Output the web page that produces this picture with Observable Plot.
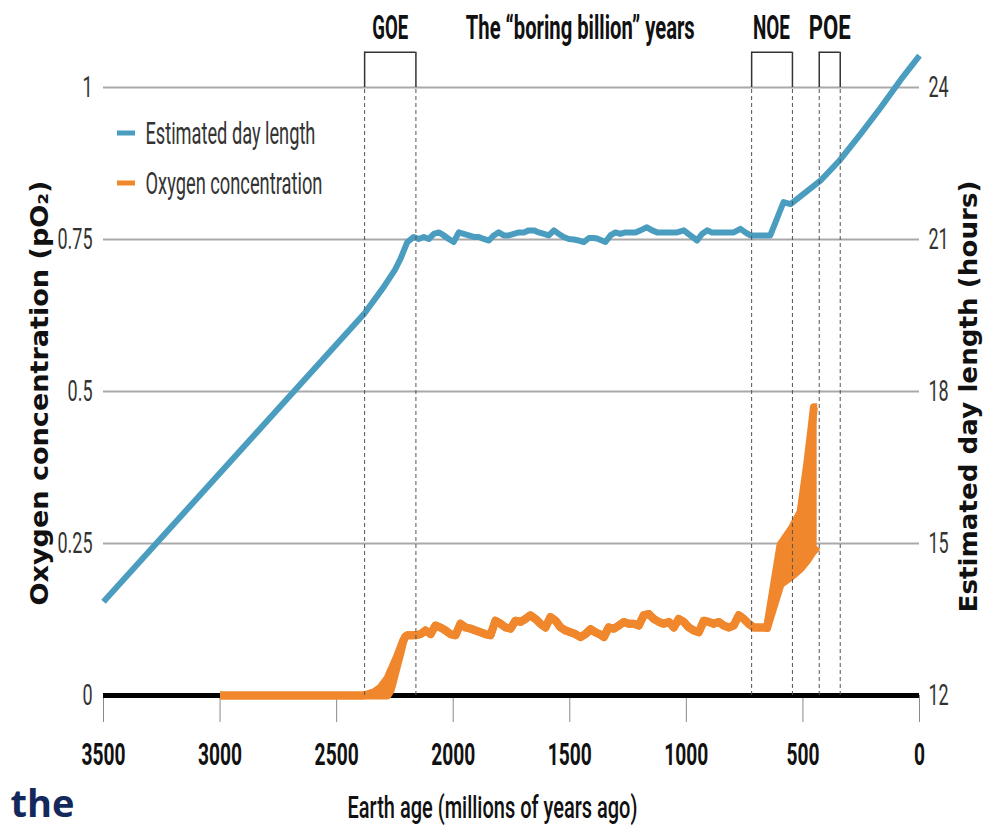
<!DOCTYPE html>
<html><head><meta charset="utf-8">
<script src="https://cdn.jsdelivr.net/npm/d3@7"></script>
<script src="https://cdn.jsdelivr.net/npm/@observablehq/plot@0.6"></script>
<style>
html,body{margin:0;padding:0;background:#fff;}
#chart{width:986px;height:826px;}
</style></head><body><div id="chart"></div>
<script>
// ---- data ----
const dayAge = [3500,2381,2300,2250,2226,2197,2169,2148,2126,2105,2083,2062,2040,2019,1998,1976,1955,1933,1912,1890,1869,1847,1826,1805,1783,1762,1740,1719,1697,1676,1654,1633,1611,1590,1568,1547,1526,1504,1483,1461,1440,1418,1397,1383,1347,1326,1304,1283,1261,1240,1218,1197,1169,1147,1125,1097,1068,1040,1011,983,954,933,911,890,868,847,826,797,768,747,725,704,683,661,640,583,553,425,339,253,167,81,0];
const dayHours = [13.85,19.54,20.05,20.40,20.62,20.95,21.05,21.01,21.05,21.01,21.11,21.14,21.08,21.01,20.95,21.14,21.11,21.08,21.05,21.05,21.01,20.98,21.08,21.14,21.08,21.08,21.11,21.14,21.14,21.18,21.18,21.14,21.11,21.08,21.18,21.11,21.05,21.01,21.00,20.98,20.95,21.03,21.03,21.02,20.95,21.08,21.14,21.11,21.14,21.14,21.14,21.18,21.24,21.18,21.14,21.14,21.14,21.14,21.18,21.08,20.98,21.11,21.18,21.14,21.14,21.14,21.14,21.14,21.21,21.14,21.08,21.08,21.08,21.08,21.08,21.74,21.70,22.16,22.58,23.08,23.60,24.15,24.63];

const oxAge = [3000,2385,2340,2312,2282,2269,2260,2240,2226,2215,2205,2197,2162,2140,2119,2097,2076,2055,2033,2012,1990,1969,1947,1926,1904,1883,1862,1840,1819,1797,1776,1754,1733,1711,1690,1669,1647,1626,1604,1583,1561,1540,1518,1497,1476,1454,1433,1411,1390,1368,1354,1333,1311,1290,1268,1247,1226,1204,1183,1161,1140,1118,1097,1075,1054,1033,1011,990,968,947,925,904,883,861,840,818,797,775,754,733,711,690,668,654,596,546,510,482,460,453,439];
const oxLo = [0,0,0,0,0,0.008,0.02,0.05,0.07,0.088,0.097,0.099,0.099,0.101,0.107,0.101,0.115,0.112,0.107,0.101,0.099,0.118,0.112,0.110,0.107,0.104,0.101,0.099,0.123,0.118,0.112,0.110,0.123,0.121,0.126,0.132,0.126,0.118,0.112,0.129,0.123,0.112,0.107,0.104,0.101,0.096,0.101,0.109,0.104,0.100,0.096,0.112,0.110,0.115,0.121,0.118,0.118,0.115,0.132,0.134,0.126,0.121,0.118,0.121,0.112,0.126,0.121,0.112,0.107,0.104,0.123,0.121,0.118,0.121,0.115,0.112,0.115,0.132,0.126,0.118,0.112,0.112,0.112,0.111,0.183,0.197,0.209,0.222,0.235,0.238,0.245];
const oxHi = [0,0,0.005,0.013,0.028,0.04,0.047,0.065,0.079,0.09,0.097,0.099,0.099,0.101,0.107,0.101,0.115,0.112,0.107,0.101,0.099,0.118,0.112,0.110,0.107,0.104,0.101,0.099,0.123,0.118,0.112,0.110,0.123,0.121,0.126,0.132,0.126,0.118,0.112,0.129,0.123,0.112,0.107,0.104,0.101,0.096,0.101,0.109,0.104,0.100,0.096,0.112,0.110,0.115,0.121,0.118,0.118,0.115,0.132,0.134,0.126,0.121,0.118,0.121,0.112,0.126,0.121,0.112,0.107,0.104,0.123,0.121,0.118,0.121,0.115,0.112,0.115,0.132,0.126,0.118,0.112,0.112,0.112,0.111,0.248,0.276,0.302,0.38,0.45,0.474,0.474];

const eraStart = [2380, 720, 430];
const eraEnd = [2160, 545, 340];
const labelText = ["GOE", "The “boring billion” years", "NOE", "POE"];
const labelAge = [2270, 1455, 635, 385];

const xTicks = [3500, 3000, 2500, 2000, 1500, 1000, 500, 0];
const xTickLabels = ["3500", "3000", "2500", "2000", "1500", "1000", "500", "0"];
const oxTicks = [0, 0.25, 0.5, 0.75, 1];
const oxTickLabels = ["0", "0.25", "0.5", "0.75", "1"];
const hourTickLabels = ["12", "15", "18", "21", "24"];
const legendLabels = ["Estimated day length", "Oxygen concentration"];

// ---- chart ----
const BLUE = "#4b9dbf", ORANGE = "#f0872c";
const day = dayAge.map((a, i) => ({age: a, y: (dayHours[i] - 12) / 12}));
const ox = oxAge.map((a, i) => ({age: a, lo: oxLo[i], hi: oxHi[i]}));
const eras = eraStart.map((s, i) => ({start: s, end: eraEnd[i]}));
const eraEdges = eraStart.flatMap((s, i) => [s, eraEnd[i]]);
const BR = 1.058;

const svg = Plot.plot({
  width: 986, height: 826,
  marginLeft: 103, marginRight: 67, marginTop: 87, marginBottom: 131,
  style: {fontFamily: "Roboto, 'Liberation Sans', sans-serif", background: "#fff", overflow: "visible"},
  x: {domain: [3500, 0]},
  y: {domain: [0, 1]},
  marks: [
    Plot.ruleY(oxTicks.filter(d => d > 0), {stroke: "#a9a9a9", strokeWidth: 2}),
    Plot.axisX({ticks: xTicks, tickFormat: d => xTickLabels[xTicks.indexOf(d)], tickSize: 27, tickPadding: 20, stroke: "#8a8a8a", fill: "#111", fontSize: 32, fontWeight: "bold", label: null}),
    Plot.axisY({anchor: "left", ticks: oxTicks, tickFormat: d => oxTickLabels[oxTicks.indexOf(d)], tickSize: 0, tickPadding: 11, fill: "#333", fontSize: 30, label: null}),
    Plot.axisY({anchor: "right", ticks: oxTicks, tickFormat: d => hourTickLabels[oxTicks.indexOf(d)], tickSize: 0, tickPadding: 9, fill: "#333", fontSize: 30, label: null}),
    Plot.ruleY([0], {stroke: "#000", strokeWidth: 5}),
    Plot.areaY(ox, {x: "age", y1: "lo", y2: "hi", fill: ORANGE}),
    Plot.line(ox, {x: "age", y: "lo", stroke: ORANGE, strokeWidth: 8, strokeLinecap: "butt"}),
    Plot.line(ox, {x: "age", y: "hi", stroke: ORANGE, strokeWidth: 8, strokeLinecap: "butt"}),
    Plot.line(day, {x: "age", y: "y", stroke: BLUE, strokeWidth: 6, strokeLinecap: "butt"}),
    Plot.ruleX(eraEdges, {y1: 0, y2: 1, stroke: "#555", strokeWidth: 1, strokeDasharray: "4,3"}),
    Plot.ruleX(eraEdges, {y1: 1, y2: BR, stroke: "#333", strokeWidth: 1.5}),
    Plot.ruleY(eras, {y: () => BR, x1: "start", x2: "end", stroke: "#333", strokeWidth: 1.5}),
    Plot.text(labelText, {x: (d, i) => labelAge[i], frameAnchor: "top", dy: -49, lineAnchor: "bottom", fontSize: 34, fontWeight: "bold", fill: "#111"}),
    Plot.text([legendLabels[0]], {frameAnchor: "top-left", dx: 42, dy: 56, textAnchor: "start", lineAnchor: "bottom", fontSize: 31, fill: "#333"}),
    Plot.text([legendLabels[1]], {frameAnchor: "top-left", dx: 42, dy: 106, textAnchor: "start", lineAnchor: "bottom", fontSize: 31, fill: "#333"}),
    Plot.text(["Oxygen concentration (pO₂)"], {frameAnchor: "left", dx: -56, dy: 1.5, rotate: -90, textAnchor: "middle", lineAnchor: "bottom", fontFamily: "DejaVu Sans", fontWeight: "bold", fontSize: 25, fill: "#111"}),
    Plot.text(["Estimated day length (hours)"], {frameAnchor: "right", dx: 57.5, dy: 5, rotate: -90, textAnchor: "middle", lineAnchor: "bottom", fontFamily: "DejaVu Sans", fontWeight: "bold", fontSize: 25, fill: "#111"}),
    Plot.text(["Earth age (millions of years ago)"], {frameAnchor: "bottom", dx: -19, dy: 122, lineAnchor: "bottom", fontSize: 31, fontWeight: 500, fill: "#111"}),
    Plot.text(["the"], {frameAnchor: "bottom-left", dx: -93, dy: 121, textAnchor: "start", lineAnchor: "bottom", fontFamily: "'Open Sans', sans-serif", fontWeight: "bold", fontSize: 38, fill: "#13295b"})
  ]
});

document.getElementById("chart").appendChild(svg);

// legend swatches
const s = d3.select(svg);
s.append("rect").attr("x", 117).attr("y", 130.5).attr("width", 18).attr("height", 5).attr("fill", BLUE);
s.append("rect").attr("x", 117).attr("y", 180.5).attr("width", 18).attr("height", 5).attr("fill", ORANGE);

// condensed look: horizontal squeeze of the glyphs (anchors preserved)
const targets = {
  "GOE": 36, "The “boring billion” years": 229, "NOE": 37, "POE": 42,
  "Estimated day length": 170, "Oxygen concentration": 177,
  "Earth age (millions of years ago)": 290
};
const rotatedTargets = {"Oxygen concentration (pO₂)": 425, "Estimated day length (hours)": 432};
s.selectAll("text").each(function () {
  const t = this.textContent;
  if (t === "the") return;
  const L = this.getComputedTextLength();
  if (rotatedTargets[t] != null) {
    this.setAttribute("textLength", rotatedTargets[t]);
    this.setAttribute("lengthAdjust", "spacingAndGlyphs");
    return;
  }
  const w = targets[t] != null ? targets[t] : L * 0.6;
  const f = w / L;
  const tr = this.getAttribute("transform");
  if (tr) {
    this.setAttribute("transform", tr + ` scale(${f},1)`);
  } else {
    this.setAttribute("textLength", w);
    this.setAttribute("lengthAdjust", "spacingAndGlyphs");
  }
});
</script>
</body></html>
